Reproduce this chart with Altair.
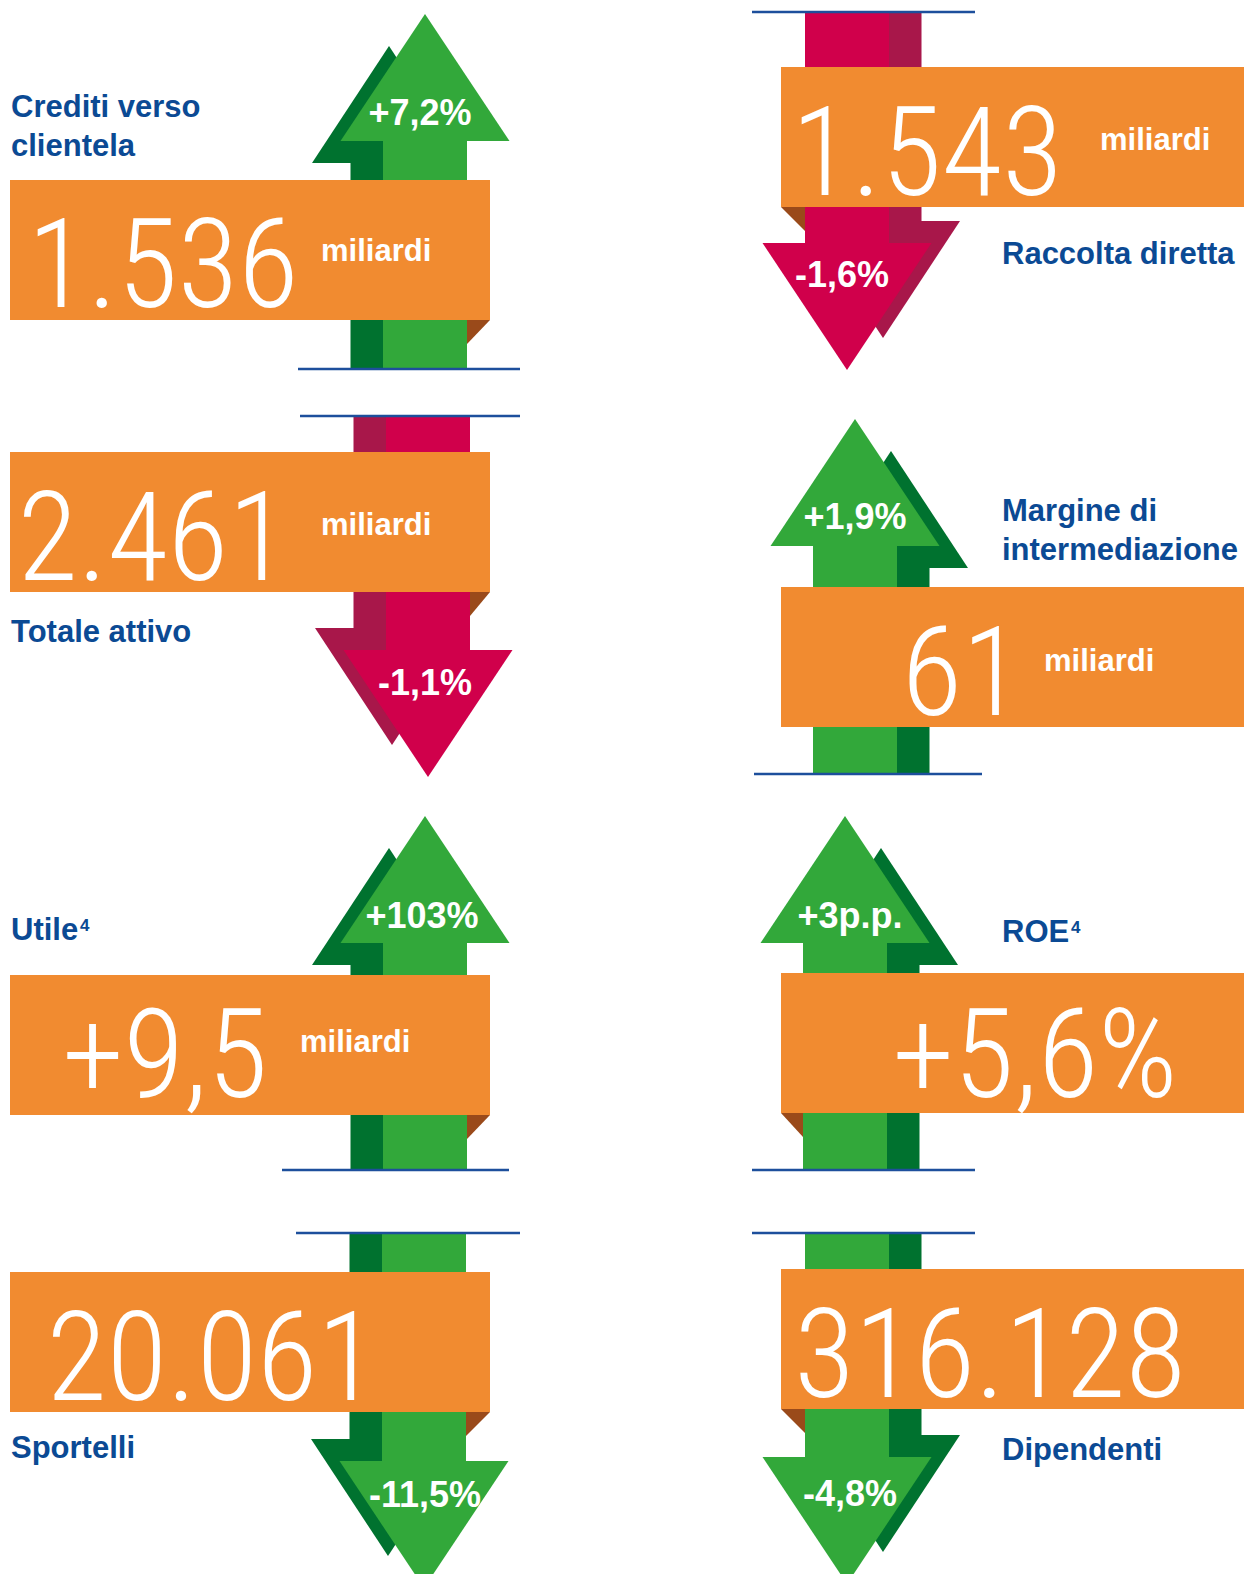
import altair as alt
import pandas as pd

# ---------------- data ----------------
labels = ["Crediti verso\nclientela", "Raccolta diretta", "Totale attivo",
          "Margine di\nintermediazione", "Utile", "ROE", "Sportelli", "Dipendenti"]
footnotes = ["", "", "", "", "4", "4", "", ""]
values = ["1.536", "1.543", "2.461", "61", "+9,5", "+5,6%", "20.061", "316.128"]
units = ["miliardi", "miliardi", "miliardi", "miliardi", "miliardi", "", "", ""]
changes = ["+7,2%", "-1,6%", "-1,1%", "+1,9%", "+103%", "+3p.p.", "-11,5%", "-4,8%"]
directions = ["up", "down", "down", "up", "up", "up", "down", "down"]
tones = ["green", "red", "red", "green", "green", "green", "green", "green"]

# ---------------- layout (page pixels) ----------------
column = [0, 1, 0, 1, 0, 1, 0, 1]
shaft_cx = [425, 847, 428, 855, 425, 845, 424, 847]
head_base = [141, 243, 650, 546, 943, 943, 1461, 1457]
rule_y = [369, 12, 416, 774, 1170, 1170, 1233, 1233]
rule_x0 = [298, 752, 300, 754, 282, 752, 296, 752]
rule_x1 = [520, 975, 520, 982, 509, 975, 520, 975]
band_top = [180, 67, 452, 587, 975, 973, 1272, 1269]
has_fold = [True, True, True, False, True, True, True, True]
label_y = [117, 264, 642, 521, 940, 942, 1458, 1460]
foot_x = [0, 0, 0, 0, 80, 1071, 0, 0]
value_x = [163, 927, 153, 962, 165, 1035, 212, 990]
value_y = [307, 195, 580, 715, 1097, 1097, 1400, 1397]
unit_x = [321, 1100, 321, 1044, 300, 0, 0, 0]
unit_y = [261, 150, 535, 671, 1052, 0, 0, 0]
change_x = [420, 842, 425, 855, 422, 850, 425, 850]
change_y = [125, 287, 695, 529, 928, 928, 1507, 1506]

BAND_H = 140
BAND_X = {0: (10, 490), 1: (781, 1244)}
LABEL_X = {0: 11, 1: 1002}
HEAD_H, HEAD_HALF, SHAFT_W = 127, 84.5, 84
SH_DX, SH_HALF, SH_SHAFT_W, SH_APEX, SH_BASE = 36, 77, 77, 32, 22
FOLD = 24

MAIN = {"green": "#32a83a", "red": "#d0004b"}
DARK = {"green": "#00722f", "red": "#a8174a"}
ORANGE = "#f18b30"
BROWN = "#9a4a1a"
BLUE = "#0b4a94"
RULE = "#1d4f9c"

shadow_rects, main_rects, shadow_heads, main_heads = [], [], [], []
bands, folds, rules = [], [], []
for i in range(len(labels)):
    sgn = -1 if directions[i] == "up" else 1
    cx, base = shaft_cx[i], head_base[i]
    apex = base + sgn * HEAD_H
    side = -1 if column[i] == 0 else 1
    scx = cx + side * SH_DX
    s_apex = apex - sgn * SH_APEX
    s_base = base - sgn * SH_BASE
    shadow_rects.append(dict(x=scx - SH_SHAFT_W / 2, x2=scx + SH_SHAFT_W / 2,
                             y=s_base, y2=rule_y[i], fill=DARK[tones[i]]))
    main_rects.append(dict(x=cx - SHAFT_W / 2, x2=cx + SHAFT_W / 2,
                           y=base, y2=rule_y[i], fill=MAIN[tones[i]]))
    for px, py in [(scx - SH_HALF, s_base), (scx, s_apex), (scx + SH_HALF, s_base)]:
        shadow_heads.append(dict(id=f"s{i}", x=px, y=py, y2=s_base, fill=DARK[tones[i]]))
    for px, py in [(cx - HEAD_HALF, base), (cx, apex), (cx + HEAD_HALF, base)]:
        main_heads.append(dict(id=f"m{i}", x=px, y=py, y2=base, fill=MAIN[tones[i]]))
    bx0, bx1 = BAND_X[column[i]]
    bt = band_top[i]
    bb = bt + BAND_H
    bands.append(dict(x=bx0, x2=bx1, y=bt, y2=bb, fill=ORANGE))
    if has_fold[i]:
        if column[i] == 0:
            sr = cx + SHAFT_W / 2
            folds += [dict(id=f"f{i}", x=sr, y=bb + FOLD, y2=bb),
                      dict(id=f"f{i}", x=bx1, y=bb, y2=bb)]
        else:
            sl = cx - SHAFT_W / 2
            folds += [dict(id=f"f{i}", x=bx0, y=bb, y2=bb),
                      dict(id=f"f{i}", x=sl, y=bb + FOLD, y2=bb)]
    rules.append(dict(x=rule_x0[i], x2=rule_x1[i], y=rule_y[i]))

label_df = pd.DataFrame(dict(t=labels, x=[LABEL_X[c] for c in column], y=label_y))
foot_df = pd.DataFrame(dict(t=footnotes, x=foot_x, y=[v - 9 for v in label_y]))
foot_df = foot_df[foot_df.t != ""]
value_df = pd.DataFrame(dict(t=values, x=value_x, y=value_y))
unit_df = pd.DataFrame(dict(t=units, x=unit_x, y=unit_y))
unit_df = unit_df[unit_df.t != ""]
change_df = pd.DataFrame(dict(t=changes, x=change_x, y=change_y))

xs = alt.Scale(domain=[8, 1244], nice=False, zero=False)
ys = alt.Scale(domain=[8, 1574], nice=False, zero=False, reverse=True)
X = alt.X("x:Q", scale=xs, axis=None)
Y = alt.Y("y:Q", scale=ys, axis=None, stack=None)
X2 = alt.X2("x2:Q")
Y2 = alt.Y2("y2:Q")
FILL = alt.Color("fill:N", scale=None, legend=None)


def rect_layer(rows):
    return alt.Chart(pd.DataFrame(rows)).mark_rect(strokeWidth=0).encode(
        x=X, x2=X2, y=Y, y2=Y2, color=FILL)


def tri_layer(rows, color=None):
    df = pd.DataFrame(rows)
    enc = dict(x=X, y=Y, y2=Y2, detail="id:N")
    if color is None:
        enc["color"] = FILL
        m = alt.Chart(df).mark_area(interpolate="linear", strokeWidth=0)
    else:
        m = alt.Chart(df).mark_area(interpolate="linear", strokeWidth=0, color=color)
    return m.encode(**enc)


BOLD = "Liberation Sans"
layers = [
    rect_layer(shadow_rects),
    tri_layer(shadow_heads),
    rect_layer(main_rects),
    tri_layer(main_heads),
    rect_layer(bands),
    tri_layer(folds, color=BROWN),
    alt.Chart(pd.DataFrame(rules)).mark_rule(color=RULE, strokeWidth=2.5).encode(
        x=X, x2=X2, y=Y),
    alt.Chart(label_df).mark_text(
        align="left", baseline="alphabetic", font=BOLD,
        fontWeight="bold", fontSize=31, color=BLUE, lineBreak="\n", lineHeight=39
    ).encode(x=X, y=Y, text="t:N"),
    alt.Chart(foot_df).mark_text(
        align="left", baseline="alphabetic", font=BOLD,
        fontWeight="bold", fontSize=17, color=BLUE
    ).encode(x=X, y=Y, text="t:N"),
    alt.Chart(value_df).mark_text(
        align="center", baseline="alphabetic",
        font="Roboto Condensed, Liberation Sans Narrow, DejaVu Sans Condensed, Roboto",
        fontWeight=300, fontSize=124, color="white"
    ).encode(x=X, y=Y, text="t:N"),
    alt.Chart(unit_df).mark_text(
        align="left", baseline="alphabetic", font=BOLD,
        fontWeight="bold", fontSize=31, color="white"
    ).encode(x=X, y=Y, text="t:N"),
    alt.Chart(change_df).mark_text(
        align="center", baseline="alphabetic", font=BOLD,
        fontWeight="bold", fontSize=36, color="white"
    ).encode(x=X, y=Y, text="t:N"),
]

chart = alt.layer(*layers).properties(
    width=1236, height=1566, padding=0, autosize="none"
).configure_view(stroke=None)

chart.save("out.html", embed_options={"renderer": "svg", "actions": False})
